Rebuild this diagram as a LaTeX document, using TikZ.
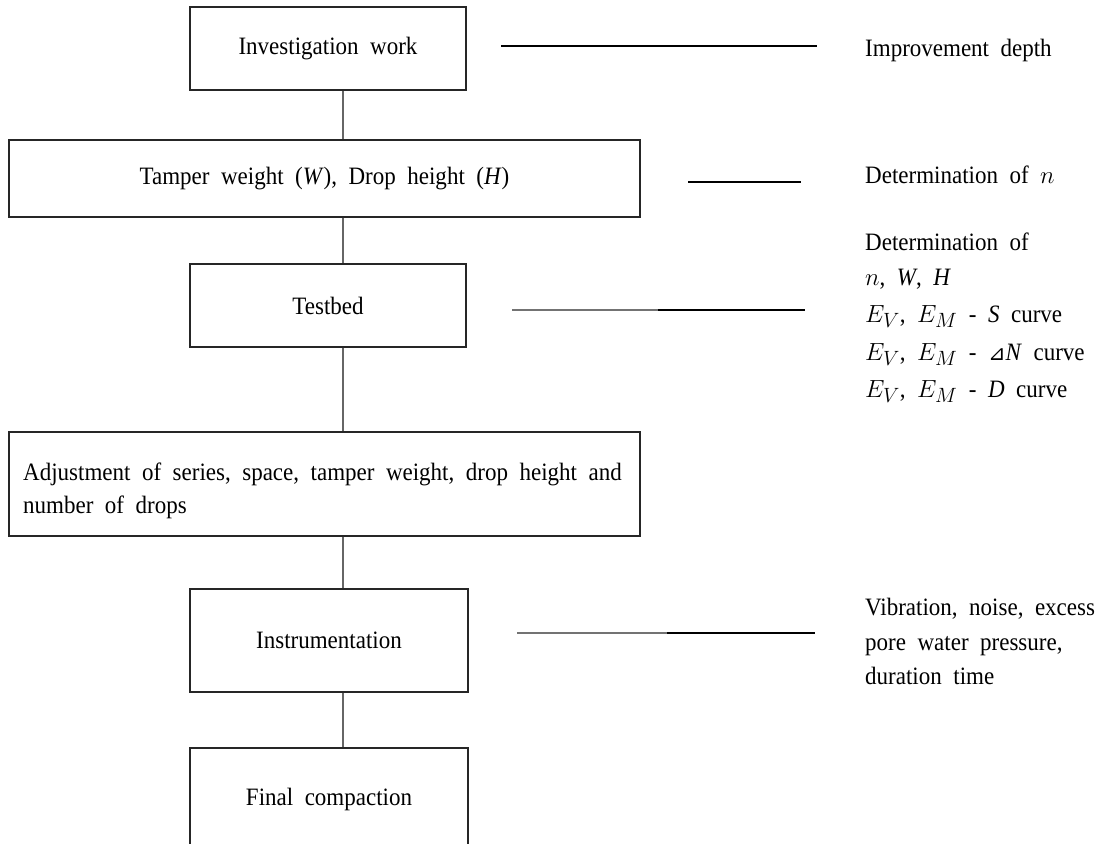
\documentclass[tikz,border=0pt]{standalone}
\usepackage{fontspec}
\setmainfont{Liberation Serif}[WordSpace=2, FakeStretch=0.92]
\newfontfamily\symfont{DejaVu Sans}
\newcommand\dfont{\fontsize{25bp}{33bp}\selectfont}
\newcommand\emth[1]{{\fontsize{28bp}{28bp}\selectfont$#1$}}
\begin{document}
\begin{tikzpicture}[x=1bp,y=-1bp,
  box/.style={draw=black!85, line width=1.2bp, inner sep=0pt, font=\dfont, align=center},
  link/.style={draw=black!60, line width=1.2bp},
  lead/.style={draw=black, line width=1.2bp},
  leadgray/.style={draw=black!55, line width=1.2bp},
  lbl/.style={anchor=base west, inner sep=0pt, font=\dfont}]
\useasboundingbox (0,0) rectangle (1104,844);
\clip (0,0) rectangle (1104,844);
\fill[white] (0,0) rectangle (1104,844);
\coordinate (cx) at (343,0);
% boxes
\node[box, minimum width=276bp, minimum height=83bp] (b1) at (328,48.5) {Investigation work};
\node[box, minimum width=631bp, minimum height=77bp] (b2) at (324.5,178.5) {Tamper weight (\textit{W}), Drop height (\textit{H})};
\node[box, minimum width=276bp, minimum height=83bp] (b3) at (328,305.5) {Testbed};
\node[box, minimum width=631bp, minimum height=104bp] (b4) at (324.5,484) {};
\node[lbl] (b4a) at (23,480) {Adjustment of series, space, tamper weight, drop height and};
\node[lbl] (b4b) at (23,513) {number of drops};
\node[box, minimum width=278bp, minimum height=103bp] (b5) at (329,640.5) {Instrumentation};
\node[box, minimum width=278bp, minimum height=103bp] (b6) at (329,799.5) {Final compaction};
% vertical connectors
\draw[link] (b1.south -| cx) -- (b2.north -| cx);
\draw[link] (b2.south -| cx) -- (b3.north -| cx);
\draw[link] (b3.south -| cx) -- (b4.north -| cx);
\draw[link] (b4.south -| cx) -- (b5.north -| cx);
\draw[link] (b5.south -| cx) -- (b6.north -| cx);
% leader lines
\coordinate (l1a) at (501,46); \coordinate (l1b) at (817,46);
\coordinate (l2a) at (688,182); \coordinate (l2b) at (801,182);
\coordinate (l3a) at (512,310); \coordinate (l3m) at (658,310); \coordinate (l3b) at (805,310);
\coordinate (l5a) at (517,633); \coordinate (l5m) at (667,633); \coordinate (l5b) at (815,633);
\draw[lead] (l1a) -- (l1b);
\draw[lead] (l2a) -- (l2b);
\draw[leadgray] (l3a) -- (l3m);
\draw[lead] (l3m) -- (l3b);
\draw[leadgray] (l5a) -- (l5m);
\draw[lead] (l5m) -- (l5b);
% right-hand labels
\node[lbl] (t1) at (865,56) {Improvement depth};
\node[lbl] (t2) at (865,183) {Determination of $n$};
\node[lbl] (t3a) at (865,250) {Determination of};
\node[lbl] (t3b) at (865,285) {$n$, \textit{W}, \textit{H}};
\node[lbl] (t3c) at (865,322) {\emth{E_V}, \emth{E_M} - \textit{S} curve};
\node[lbl] (t3d) at (865,360) {\emth{E_V}, \emth{E_M} - {\symfont\fontsize{21bp}{21bp}\selectfont ⊿}\textit{N} curve};
\node[lbl] (t3e) at (865,397) {\emth{E_V}, \emth{E_M} - \textit{D} curve};
\node[lbl] (t5a) at (865,615) {Vibration, noise, excess};
\node[lbl] (t5b) at (865,650) {pore water pressure,};
\node[lbl] (t5c) at (865,684) {duration time};
\end{tikzpicture}
\end{document}
